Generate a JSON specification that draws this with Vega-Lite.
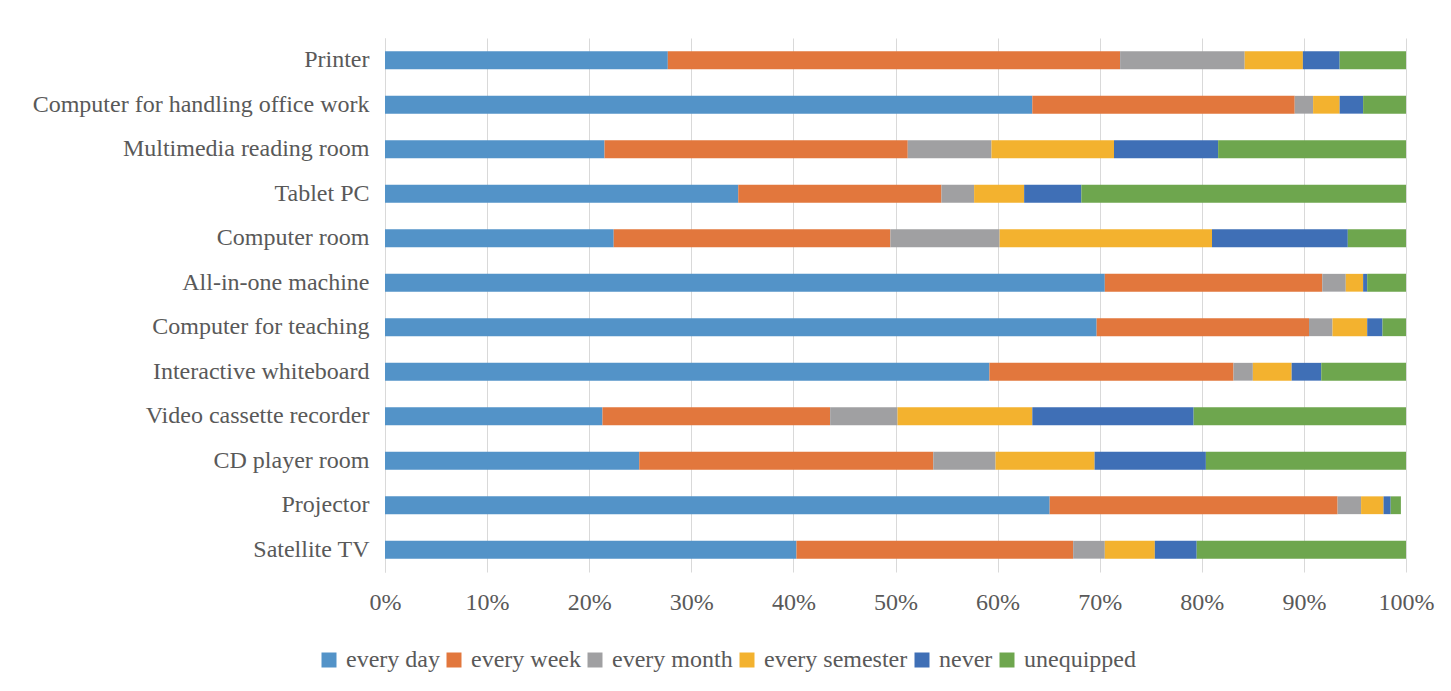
{
  "$schema": "https://vega.github.io/schema/vega-lite/v6.json",
  "autosize": "none",
  "width": 1021,
  "height": 534,
  "padding": {"left": 385, "top": 38, "right": 45, "bottom": 119},
  "background": "#ffffff",
  "data": {
    "values": [
      {"device": "Printer", "freq": "every day", "pct": 27.7},
      {"device": "Printer", "freq": "every week", "pct": 44.3},
      {"device": "Printer", "freq": "every month", "pct": 12.2},
      {"device": "Printer", "freq": "every semester", "pct": 5.7},
      {"device": "Printer", "freq": "never", "pct": 3.6},
      {"device": "Printer", "freq": "unequipped", "pct": 6.5},
      {"device": "Computer for handling office work", "freq": "every day", "pct": 63.4},
      {"device": "Computer for handling office work", "freq": "every week", "pct": 25.7},
      {"device": "Computer for handling office work", "freq": "every month", "pct": 1.8},
      {"device": "Computer for handling office work", "freq": "every semester", "pct": 2.6},
      {"device": "Computer for handling office work", "freq": "never", "pct": 2.3},
      {"device": "Computer for handling office work", "freq": "unequipped", "pct": 4.2},
      {"device": "Multimedia reading room", "freq": "every day", "pct": 21.5},
      {"device": "Multimedia reading room", "freq": "every week", "pct": 29.7},
      {"device": "Multimedia reading room", "freq": "every month", "pct": 8.2},
      {"device": "Multimedia reading room", "freq": "every semester", "pct": 12.0},
      {"device": "Multimedia reading room", "freq": "never", "pct": 10.2},
      {"device": "Multimedia reading room", "freq": "unequipped", "pct": 18.4},
      {"device": "Tablet PC", "freq": "every day", "pct": 34.6},
      {"device": "Tablet PC", "freq": "every week", "pct": 19.9},
      {"device": "Tablet PC", "freq": "every month", "pct": 3.2},
      {"device": "Tablet PC", "freq": "every semester", "pct": 4.9},
      {"device": "Tablet PC", "freq": "never", "pct": 5.6},
      {"device": "Tablet PC", "freq": "unequipped", "pct": 31.8},
      {"device": "Computer room", "freq": "every day", "pct": 22.4},
      {"device": "Computer room", "freq": "every week", "pct": 27.1},
      {"device": "Computer room", "freq": "every month", "pct": 10.7},
      {"device": "Computer room", "freq": "every semester", "pct": 20.8},
      {"device": "Computer room", "freq": "never", "pct": 13.3},
      {"device": "Computer room", "freq": "unequipped", "pct": 5.7},
      {"device": "All-in-one machine", "freq": "every day", "pct": 70.5},
      {"device": "All-in-one machine", "freq": "every week", "pct": 21.3},
      {"device": "All-in-one machine", "freq": "every month", "pct": 2.3},
      {"device": "All-in-one machine", "freq": "every semester", "pct": 1.7},
      {"device": "All-in-one machine", "freq": "never", "pct": 0.4},
      {"device": "All-in-one machine", "freq": "unequipped", "pct": 3.8},
      {"device": "Computer for teaching", "freq": "every day", "pct": 69.7},
      {"device": "Computer for teaching", "freq": "every week", "pct": 20.8},
      {"device": "Computer for teaching", "freq": "every month", "pct": 2.3},
      {"device": "Computer for teaching", "freq": "every semester", "pct": 3.4},
      {"device": "Computer for teaching", "freq": "never", "pct": 1.5},
      {"device": "Computer for teaching", "freq": "unequipped", "pct": 2.3},
      {"device": "Interactive whiteboard", "freq": "every day", "pct": 59.2},
      {"device": "Interactive whiteboard", "freq": "every week", "pct": 23.9},
      {"device": "Interactive whiteboard", "freq": "every month", "pct": 1.9},
      {"device": "Interactive whiteboard", "freq": "every semester", "pct": 3.8},
      {"device": "Interactive whiteboard", "freq": "never", "pct": 2.9},
      {"device": "Interactive whiteboard", "freq": "unequipped", "pct": 8.3},
      {"device": "Video cassette recorder", "freq": "every day", "pct": 21.3},
      {"device": "Video cassette recorder", "freq": "every week", "pct": 22.3},
      {"device": "Video cassette recorder", "freq": "every month", "pct": 6.6},
      {"device": "Video cassette recorder", "freq": "every semester", "pct": 13.2},
      {"device": "Video cassette recorder", "freq": "never", "pct": 15.8},
      {"device": "Video cassette recorder", "freq": "unequipped", "pct": 20.8},
      {"device": "CD player room", "freq": "every day", "pct": 24.9},
      {"device": "CD player room", "freq": "every week", "pct": 28.8},
      {"device": "CD player room", "freq": "every month", "pct": 6.1},
      {"device": "CD player room", "freq": "every semester", "pct": 9.7},
      {"device": "CD player room", "freq": "never", "pct": 10.9},
      {"device": "CD player room", "freq": "unequipped", "pct": 19.6},
      {"device": "Projector", "freq": "every day", "pct": 65.1},
      {"device": "Projector", "freq": "every week", "pct": 28.2},
      {"device": "Projector", "freq": "every month", "pct": 2.3},
      {"device": "Projector", "freq": "every semester", "pct": 2.2},
      {"device": "Projector", "freq": "never", "pct": 0.7},
      {"device": "Projector", "freq": "unequipped", "pct": 1.0},
      {"device": "Satellite TV", "freq": "every day", "pct": 40.3},
      {"device": "Satellite TV", "freq": "every week", "pct": 27.1},
      {"device": "Satellite TV", "freq": "every month", "pct": 3.1},
      {"device": "Satellite TV", "freq": "every semester", "pct": 4.9},
      {"device": "Satellite TV", "freq": "never", "pct": 4.1},
      {"device": "Satellite TV", "freq": "unequipped", "pct": 20.5}
    ]
  },
  "transform": [
    {
      "calculate": "indexof(['every day', 'every week', 'every month', 'every semester', 'never', 'unequipped'], datum.freq)",
      "as": "freq_rank"
    }
  ],
  "mark": {"type": "bar", "strokeWidth": 0},
  "encoding": {
    "y": {
      "field": "device",
      "type": "nominal",
      "sort": null,
      "title": null,
      "scale": {"paddingInner": 0.6, "paddingOuter": 0.3},
      "axis": {
        "ticks": false,
        "domain": true,
        "domainColor": "#d9d9d9",
        "domainWidth": 1,
        "labelPadding": 16,
        "labelFont": "Liberation Serif",
        "labelFontSize": 24,
        "labelColor": "#595959",
        "labelLimit": 400
      }
    },
    "x": {
      "field": "pct",
      "type": "quantitative",
      "stack": "zero",
      "title": null,
      "scale": {"domain": [0, 100], "nice": false},
      "axis": {
        "values": [0, 10, 20, 30, 40, 50, 60, 70, 80, 90, 100],
        "labelExpr": "datum.value + '%'",
        "grid": true,
        "gridColor": "#d9d9d9",
        "gridWidth": 1,
        "domain": false,
        "ticks": false,
        "labelPadding": 18,
        "labelFont": "Liberation Serif",
        "labelFontSize": 24,
        "labelColor": "#595959",
        "labelFlush": false
      }
    },
    "order": {"field": "freq_rank", "type": "quantitative", "sort": "ascending"},
    "color": {
      "field": "freq",
      "type": "nominal",
      "scale": {
        "domain": ["every day", "every week", "every month", "every semester", "never", "unequipped"],
        "range": ["#5393c8", "#e2773d", "#a0a0a2", "#f3b22f", "#3f6fb6", "#6ea64e"]
      },
      "legend": {
        "title": null,
        "orient": "none",
        "direction": "horizontal",
        "legendX": -68,
        "legendY": 610,
        "symbolType": "square",
        "symbolSize": 225,
        "symbolStrokeWidth": 0,
        "symbolOpacity": 1,
        "labelFont": "Liberation Serif",
        "labelFontSize": 24,
        "labelColor": "#595959",
        "labelOffset": 5,
        "columnPadding": 2,
        "labelLimit": 300
      }
    }
  },
  "config": {
    "view": {"stroke": null}
  }
}
